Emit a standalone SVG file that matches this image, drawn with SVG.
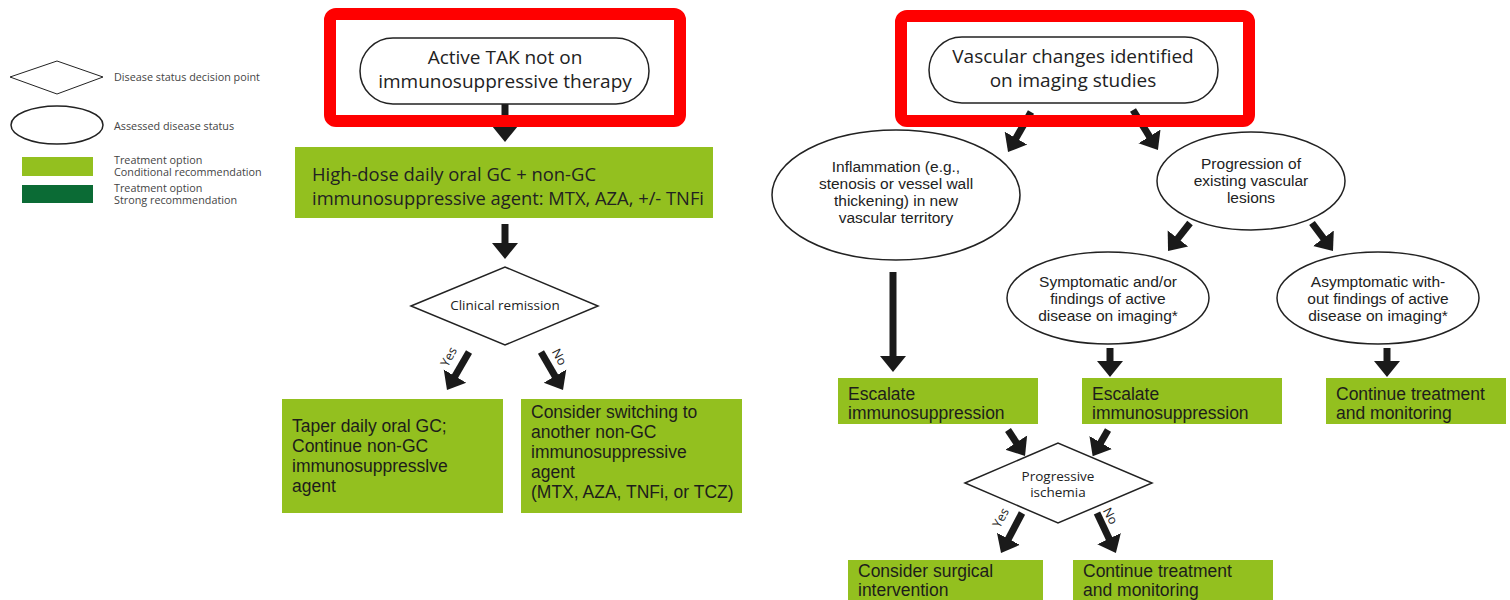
<svg xmlns="http://www.w3.org/2000/svg" width="1510" height="600" viewBox="0 0 1510 600">
<style>
.t{font-family:"Open Sans","Liberation Sans",sans-serif;fill:#222}
.leg{font-size:10.8px;fill:#444}
.g{fill:#93c01f}
.dg{fill:#0b6b35}
.shape{fill:#fff;stroke:#222;stroke-width:1.5}
.red{fill:none;stroke:#ff0000;stroke-width:12}
.arr{stroke:#1a1a1a;stroke-width:7;fill:none;marker-end:url(#ah)}
.bx{font-family:"Liberation Sans",Arial,sans-serif;font-size:17.5px;fill:#1d1d1b}
.el{font-family:"Liberation Sans",Arial,sans-serif;font-size:15.5px;text-anchor:middle;fill:#222}
.yn{font-size:12.5px;text-anchor:middle}
.dm{font-size:13.5px;text-anchor:middle}
</style>
<defs>
<marker id="ah" markerUnits="userSpaceOnUse" markerWidth="17" markerHeight="28" refX="1" refY="13" orient="auto" viewBox="0 0 17 26">
<path d="M0,0 L16,13 L0,26 z" fill="#1a1a1a"/>
</marker>
</defs>
<rect width="1510" height="600" fill="#fff"/>

<g id="legend">
<polygon class="shape" points="10,77 57,61 103,77 57,94" style="stroke-width:1"/>
<text class="t leg" x="114" y="81">Disease status decision point</text>
<ellipse class="shape" cx="57" cy="125" rx="46" ry="19"/>
<text class="t leg" x="114" y="130">Assessed disease status</text>
<rect class="g" x="22" y="157" width="71" height="19"/>
<text class="t leg" x="114" y="164">Treatment option</text>
<text class="t leg" x="114" y="176">Conditional recommendation</text>
<rect class="dg" x="22" y="185" width="71" height="18"/>
<text class="t leg" x="114" y="192">Treatment option</text>
<text class="t leg" x="114" y="204">Strong recommendation</text>
</g>

<g id="connectors">
<line class="arr" x1="505" y1="104" x2="505" y2="127"/>
<line class="arr" x1="505" y1="224" x2="505" y2="244"/>
<line class="arr" x1="469" y1="352" x2="454.5" y2="377"/>
<line class="arr" x1="541" y1="352" x2="555.5" y2="377"/>
<line class="arr" x1="1031" y1="112" x2="1015.5" y2="139"/>
<line class="arr" x1="1133" y1="110" x2="1150" y2="137.3"/>
<line class="arr" x1="893" y1="272" x2="893" y2="357"/>
<line class="arr" x1="1190" y1="223" x2="1177.3" y2="239.2"/>
<line class="arr" x1="1312" y1="223" x2="1324" y2="239"/>
<line class="arr" x1="1110" y1="348" x2="1110" y2="362"/>
<line class="arr" x1="1387" y1="348" x2="1387" y2="362"/>
<line class="arr" x1="1008" y1="430" x2="1016.8" y2="443.4"/>
<line class="arr" x1="1108" y1="430" x2="1100.2" y2="443.4"/>
<line class="arr" x1="1022" y1="513" x2="1008" y2="539.7"/>
<line class="arr" x1="1097" y1="513" x2="1109.5" y2="539.5"/>
<text class="t yn" transform="translate(449,357) rotate(-62)" dy="4">Yes</text>
<text class="t yn" transform="translate(559,357) rotate(62)" dy="4">No</text>
<text class="t yn" transform="translate(1001,518) rotate(-62)" dy="4">Yes</text>
<text class="t yn" transform="translate(1110,516) rotate(62)" dy="4">No</text>
</g>

<g id="start-left">
<rect class="shape" x="360" y="38" width="289" height="66" rx="33"/>
<text class="t" x="505" y="64" font-size="19" text-anchor="middle">Active TAK not on</text>
<text class="t" x="505" y="88" font-size="19" text-anchor="middle">immunosuppressive therapy</text>
</g>
<rect class="red" x="330" y="14" width="350" height="107" rx="6"/>

<g id="high-dose">
<rect class="g" x="295" y="147" width="418" height="71"/>
<text class="t" x="312" y="181" font-size="18.5" textLength="284" lengthAdjust="spacingAndGlyphs">High-dose daily oral GC + non-GC</text>
<text class="t" x="312" y="205" font-size="18.5" textLength="392" lengthAdjust="spacingAndGlyphs">immunosuppressive agent: MTX, AZA, +/- TNFi</text>
</g>

<g id="clinical-remission">
<polygon class="shape" points="411,306 505,267 598,306 505,345"/>
<text class="t dm" x="505" y="310">Clinical remission</text>
</g>

<g id="taper">
<rect class="g" x="282" y="399" width="221" height="114"/>
<text class="bx" x="292" y="432">Taper daily oral GC;</text>
<text class="bx" x="292" y="452">Continue non-GC</text>
<text class="bx" x="292" y="472">immunosuppresslve</text>
<text class="bx" x="292" y="492">agent</text>
</g>

<g id="consider-switch">
<rect class="g" x="521" y="399" width="221" height="114"/>
<text class="bx" x="531" y="418">Consider switching to</text>
<text class="bx" x="531" y="438">another non-GC</text>
<text class="bx" x="531" y="458">immunosuppressive</text>
<text class="bx" x="531" y="478">agent</text>
<text class="bx" x="531" y="498">(MTX, AZA, TNFi, or TCZ)</text>
</g>

<g id="start-right">
<rect class="shape" x="929" y="37" width="289" height="66" rx="33"/>
<text class="t" x="1073" y="63" font-size="19" text-anchor="middle">Vascular changes identified</text>
<text class="t" x="1073" y="87" font-size="19" text-anchor="middle">on imaging studies</text>
</g>
<rect class="red" x="901" y="16" width="348" height="105" rx="6"/>

<g id="inflammation">
<ellipse class="shape" cx="896" cy="195" rx="124" ry="65"/>
<text class="el" x="896" y="172">Inflammation (e.g.,</text>
<text class="el" x="896" y="189">stenosis or vessel wall</text>
<text class="el" x="896" y="206">thickening) in new</text>
<text class="el" x="896" y="223">vascular territory</text>
</g>

<g id="progression">
<ellipse class="shape" cx="1251" cy="181" rx="94" ry="49"/>
<text class="el" x="1251" y="169">Progression of</text>
<text class="el" x="1251" y="186">existing vascular</text>
<text class="el" x="1251" y="203">lesions</text>
</g>

<g id="symptomatic">
<ellipse class="shape" cx="1108" cy="298" rx="101" ry="46"/>
<text class="el" x="1108" y="287">Symptomatic and/or</text>
<text class="el" x="1108" y="304">findings of active</text>
<text class="el" x="1108" y="321">disease on imaging*</text>
</g>

<g id="asymptomatic">
<ellipse class="shape" cx="1378" cy="298" rx="101" ry="46"/>
<text class="el" x="1378" y="287">Asymptomatic with-</text>
<text class="el" x="1378" y="304">out findings of active</text>
<text class="el" x="1378" y="321">disease on imaging*</text>
</g>

<g id="escalate-1">
<rect class="g" x="838" y="378" width="200" height="46"/>
<text class="bx" x="848" y="400">Escalate</text>
<text class="bx" x="848" y="419">immunosuppression</text>
</g>

<g id="escalate-2">
<rect class="g" x="1082" y="378" width="200" height="46"/>
<text class="bx" x="1092" y="400">Escalate</text>
<text class="bx" x="1092" y="419">immunosuppression</text>
</g>

<g id="continue-1">
<rect class="g" x="1326" y="378" width="180" height="46"/>
<text class="bx" x="1336" y="400">Continue treatment</text>
<text class="bx" x="1336" y="419">and monitoring</text>
</g>

<g id="progressive-ischemia">
<polygon class="shape" points="965,483 1058,443 1152,483 1058,523"/>
<text class="t dm" x="1058" y="481">Progressive</text>
<text class="t dm" x="1058" y="497">ischemia</text>
</g>

<g id="surgical">
<rect class="g" x="848" y="560" width="195" height="44"/>
<text class="bx" x="858" y="577">Consider surgical</text>
<text class="bx" x="858" y="596">intervention</text>
</g>

<g id="continue-2">
<rect class="g" x="1073" y="560" width="200" height="44"/>
<text class="bx" x="1083" y="577">Continue treatment</text>
<text class="bx" x="1083" y="596">and monitoring</text>
</g>
</svg>
